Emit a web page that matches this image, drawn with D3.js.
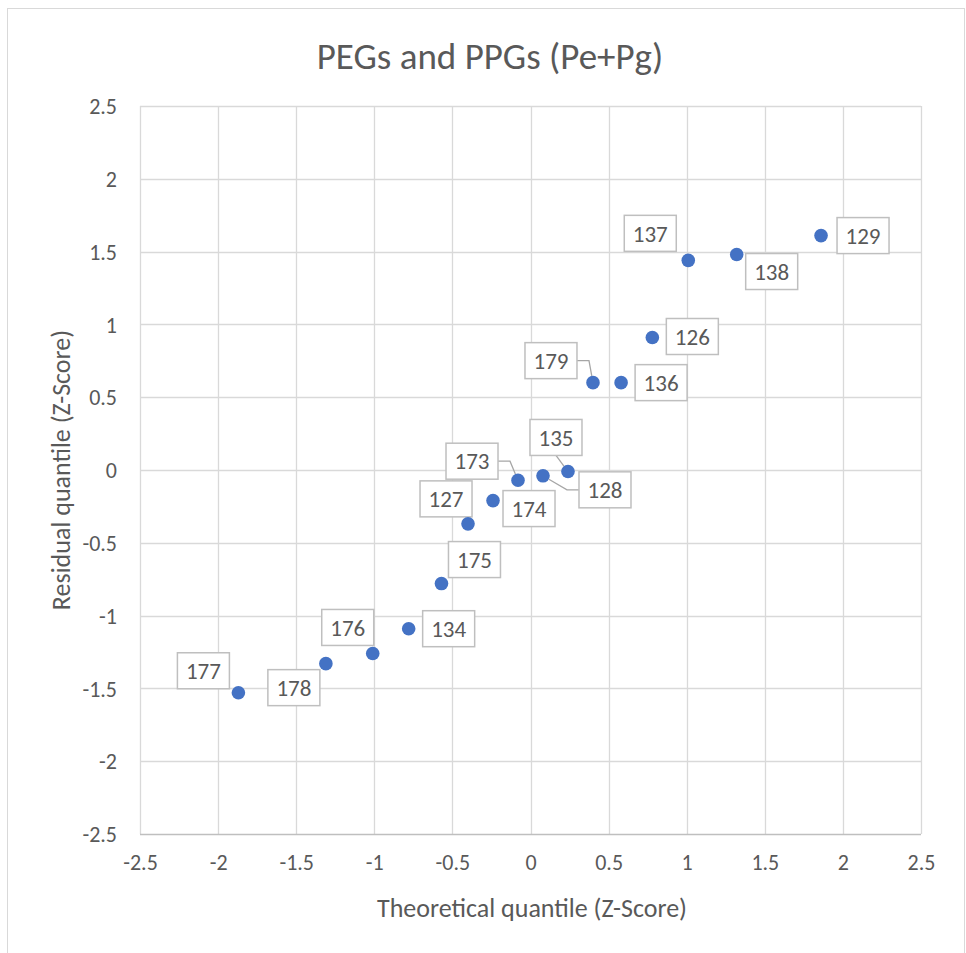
<!DOCTYPE html>
<html>
<head>
<meta charset="utf-8">
<script src="https://cdn.jsdelivr.net/npm/d3@7"></script>
<style>
  html, body { margin: 0; padding: 0; background: #fff; }
  svg { display: block; }
  text { font-family: Carlito, Calibri, Lato, "Open Sans", sans-serif; fill: #595959; }
</style>
</head>
<body>
<svg id="chart" width="966" height="953"></svg>
<script>
// Sample IDs, theoretical normal quantiles and residual quantiles (Z-scores)
const ids         = ["177", "178", "176", "134", "175", "127", "174", "173", "128", "135", "179", "136", "126", "137", "138", "129"];
const theoretical = [-1.87, -1.31, -1.01, -0.78, -0.57, -0.40, -0.24, -0.08, 0.08, 0.24, 0.40, 0.58, 0.78, 1.01, 1.32, 1.86];
const residual    = [-1.53, -1.33, -1.26, -1.09, -0.78, -0.37, -0.21, -0.07, -0.04, -0.01, 0.60, 0.60, 0.91, 1.44, 1.48, 1.61];
const tickValues  = [-2.5, -2, -1.5, -1, -0.5, 0, 0.5, 1, 1.5, 2, 2.5];

// Where each data label box sits relative to its point (px), and how its leader line leaves the box
const labelLayout = [
  { dx: -35, dy: -22, leader: null },
  { dx: -32, dy:  24, leader: null },
  { dx: -25, dy: -26, leader: null },
  { dx:  40, dy:   0, leader: null },
  { dx:  33, dy: -24, leader: null },
  { dx: -22, dy: -25, leader: null },
  { dx:  36, dy:   8, leader: null },
  { dx: -46, dy: -19, leader: "right" },
  { dx:  62, dy:  14, leader: "left" },
  { dx: -12, dy: -34, leader: "bottom" },
  { dx: -42, dy: -22, leader: "right" },
  { dx:  40, dy:   0, leader: null },
  { dx:  40, dy:  -1, leader: null },
  { dx: -38, dy: -27, leader: null },
  { dx:  35, dy:  17, leader: null },
  { dx:  42, dy:   0, leader: null }
];

const plot = { left: 140, right: 921, top: 106, bottom: 834 };
const FONT = "Carlito, Calibri, Lato, 'Open Sans', sans-serif";

const svg = d3.select("#chart");

// Chart frame
svg.append("rect")
  .attr("x", 7.5).attr("y", 8.5)
  .attr("width", 957).attr("height", 950)
  .attr("fill", "#fff").attr("stroke", "#d9d9d9").attr("stroke-width", 1);

const x = d3.scaleLinear().domain([-2.5, 2.5]).range([plot.left, plot.right]);
const y = d3.scaleLinear().domain([-2.5, 2.5]).range([plot.bottom, plot.top]);

// Gridlines
const grid = svg.append("g").attr("class", "grid");
grid.selectAll("line.gx").data(tickValues).join("line")
  .attr("class", "gx")
  .attr("x1", d => Math.round(x(d)) + 0.5).attr("x2", d => Math.round(x(d)) + 0.5)
  .attr("y1", plot.top).attr("y2", plot.bottom)
  .attr("stroke", "#d9d9d9").attr("stroke-width", 1.3);
grid.selectAll("line.gy").data(tickValues).join("line")
  .attr("class", "gy")
  .attr("y1", d => Math.round(y(d)) + 0.5).attr("y2", d => Math.round(y(d)) + 0.5)
  .attr("x1", plot.left).attr("x2", plot.right)
  .attr("stroke", d => d === -2.5 ? "#bfbfbf" : "#d9d9d9").attr("stroke-width", 1.3);

// Axes (tick labels only; lines come from the grid)
const fmt = d => String(d);
const xAxis = svg.append("g")
  .attr("transform", `translate(0,${plot.bottom + 28})`)
  .call(d3.axisBottom(x).tickValues(tickValues).tickFormat(fmt).tickSize(0).tickPadding(0));
const yAxis = svg.append("g")
  .attr("transform", `translate(${plot.left - 23},0)`)
  .call(d3.axisLeft(y).tickValues(tickValues).tickFormat(fmt).tickSize(0).tickPadding(0));
[xAxis, yAxis].forEach(g => {
  g.select(".domain").remove();
  g.selectAll("text").attr("font-size", 22).attr("fill", "#595959")
    .style("font-family", FONT)
    .attr("y", 0)
    .attr("dy", "0.35em");
});

// Title and axis titles
svg.append("text")
  .attr("x", 490).attr("y", 69)
  .attr("text-anchor", "middle")
  .attr("font-size", 37)
  .text("PEGs and PPGs (Pe+Pg)");
svg.append("text")
  .attr("x", 532).attr("y", 917)
  .attr("text-anchor", "middle")
  .attr("font-size", 26)
  .text("Theoretical quantile (Z-Score)");
svg.append("text")
  .attr("transform", `translate(70,470) rotate(-90)`)
  .attr("text-anchor", "middle")
  .attr("font-size", 26)
  .text("Residual quantile (Z-Score)");

// Points
const points = ids.map((id, i) => ({
  id, px: x(theoretical[i]), py: y(residual[i]), lay: labelLayout[i]
}));

// Data labels with leader lines
const boxW = 52, boxH = 36, r = 6.8;
const labels = svg.append("g");
points.forEach(p => {
  const cx = p.px + p.lay.dx, cy = p.py + p.lay.dy;
  const bx1 = cx - boxW / 2, bx2 = cx + boxW / 2, by2 = cy + boxH / 2;
  let path = null;
  if (p.lay.leader === "right") {
    const ex = bx2 + 12;
    const ang = Math.atan2(p.py - cy, p.px - ex);
    path = [[bx2, cy], [ex, cy], [p.px - r * Math.cos(ang), p.py - r * Math.sin(ang)]];
  } else if (p.lay.leader === "left") {
    const ex = bx1 - 12;
    const ang = Math.atan2(p.py - cy, p.px - ex);
    path = [[bx1, cy], [ex, cy], [p.px - r * Math.cos(ang), p.py - r * Math.sin(ang)]];
  } else if (p.lay.leader === "bottom") {
    const ang = Math.atan2(p.py - by2, p.px - cx);
    path = [[cx, by2], [p.px - r * Math.cos(ang), p.py - r * Math.sin(ang)]];
  }
  if (path) {
    labels.append("path")
      .attr("d", d3.line()(path))
      .attr("fill", "none").attr("stroke", "#a6a6a6").attr("stroke-width", 1.3);
  }
  labels.append("rect")
    .attr("x", bx1).attr("y", cy - boxH / 2)
    .attr("width", boxW).attr("height", boxH)
    .attr("fill", "#fff").attr("stroke", "#bfbfbf").attr("stroke-width", 1.5);
  labels.append("text")
    .attr("x", cx).attr("y", cy)
    .attr("dy", "0.36em")
    .attr("text-anchor", "middle")
    .attr("font-size", 23)
    .text(p.id);
});

svg.append("g").selectAll("circle").data(points).join("circle")
  .attr("cx", d => d.px).attr("cy", d => d.py)
  .attr("r", r)
  .attr("fill", "#4472c4");
</script>
</body>
</html>
